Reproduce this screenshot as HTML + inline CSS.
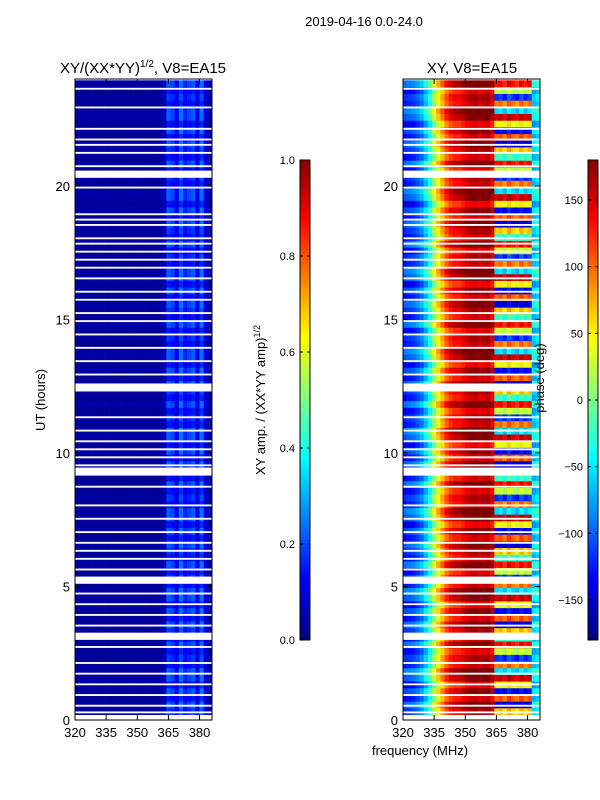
<!DOCTYPE html>
<html><head><meta charset="utf-8">
<style>
body{margin:0;background:#fff;}
svg{display:block;font-family:"Liberation Sans","DejaVu Sans",sans-serif;}
</style></head>
<body>
<svg id="fig" width="600" height="800" xmlns="http://www.w3.org/2000/svg">
<rect width="600" height="800" fill="#fff"/>
<text x="364" y="26" font-size="13" text-anchor="middle">2019-04-16 0.0-24.0</text>
<text x="143" y="73" font-size="15" text-anchor="middle">XY/(XX*YY)<tspan font-size="10" dy="-6">1/2</tspan><tspan dy="6">, V8=EA15</tspan></text>
<text x="472" y="73" font-size="15" text-anchor="middle">XY, V8=EA15</text>
<text transform="translate(45,400) rotate(-90)" font-size="13" text-anchor="middle">UT (hours)</text>
<text transform="translate(265,400) rotate(-90)" font-size="13" text-anchor="middle">XY amp. / (XX*YY amp)<tspan font-size="9" dy="-5">1/2</tspan></text>
<g id="left"></g>
<g id="right"></g>
<g id="cb1"></g>
<g id="cb2"></g>
<text transform="translate(544,378) rotate(-90)" font-size="13" text-anchor="middle">phase (deg)</text>
<text x="420" y="755" font-size="13" text-anchor="middle">frequency (MHz)</text>
</svg>
<script>
const freqBands=[320,322,324,326,328,330,332,334,336,338,340,342,344,346,348,350,352,354,356,358,360,362,364,366,368,370,372,374,376,378,380,382,384];
const phaseProfile=[-120,-115,-110,-100,-85,-60,-30,10,50,80,110,130,140,140,150,160,165,170,160,165,170,150,0,10,-10,20,0,-10,15,-5,10,-60,-50];
const ampProfile=[0.03,0.03,0.03,0.03,0.03,0.03,0.03,0.03,0.03,0.03,0.03,0.03,0.03,0.03,0.03,0.03,0.03,0.03,0.03,0.03,0.03,0.05,0.18,0.16,0.1,0.2,0.13,0.16,0.18,0.1,0.2,0.08,0.04];
const phaseRowShift=[0,20,-15,10,-25,15,30,-10,0,-20,25,-15];
const rowPhaseHigh=[60,-150,100,-140,40,150,-60,90,-120,20,130,-30];
const gapTimes=[23.6,22.9,22.1,21.7,21.5,21.2,20.7,20.5,20.3,19.9,18.9,18.7,18.5,18.0,17.8,17.5,17.2,16.9,16.5,16.0,15.7,15.2,14.9,14.4,13.9,13.4,12.9,12.5,12.3,11.3,10.8,10.4,10.1,9.8,9.5,9.15,8.7,8.0,7.5,7.0,6.6,6.3,6.0,5.6,5.3,5.1,4.7,4.3,3.9,3.5,3.2,3.0,2.7,2.1,1.7,1.3,0.9,0.5,0.25];
const gapWidths=[0.07,0.07,0.07,0.07,0.07,0.07,0.07,0.07,0.25,0.07,0.07,0.07,0.07,0.07,0.07,0.07,0.07,0.07,0.07,0.07,0.07,0.07,0.07,0.07,0.07,0.07,0.07,0.07,0.3,0.07,0.07,0.07,0.07,0.07,0.07,0.3,0.07,0.07,0.07,0.07,0.07,0.07,0.07,0.07,0.07,0.25,0.07,0.07,0.07,0.07,0.07,0.25,0.07,0.07,0.07,0.07,0.07,0.07,0.07];
const xTicks=[320,335,350,365,380];
const yTicks=[0,5,10,15,20];
const ampTicks=[0.0,0.2,0.4,0.6,0.8,1.0];
const phaseTicks=[-150,-100,-50,0,50,100,150];
const NS="http://www.w3.org/2000/svg";
function el(t,a,p){const e=document.createElementNS(NS,t);for(const k in a)e.setAttribute(k,a[k]);p.appendChild(e);return e;}
function cl(v){return Math.max(0,Math.min(1,v));}
function jet(v){v=cl(v);const r=cl(1.5-Math.abs(4*v-3)),g=cl(1.5-Math.abs(4*v-2)),b=cl(1.5-Math.abs(4*v-1));return `rgb(${Math.round(r*255)},${Math.round(g*255)},${Math.round(b*255)})`;}
const yT=79,yB=720;
function yS(h){return yB-(h/24)*(yB-yT);}
function panel(gid,x0,x1,valFn){
  const g=document.getElementById(gid);
  const xS=f=>x0+(f-320)/(386-320)*(x1-x0);
  const dt=0.25;
  for(let r=0;r<96;r++){
    const t=r*dt+0.2;
    if(t>23.9)break;
    for(let b=0;b<freqBands.length;b++){
      const f=freqBands[b];
      const xa=xS(f),xb=Math.min(x1,xS(f+2));
      const c=el('rect',{x:xa,y:yS(t+dt),width:xb-xa+0.3,height:yS(t)-yS(t+dt)+0.3,fill:valFn(b,r)},g);
      
      
    }
  }
  gapTimes.forEach((t,i)=>{
    const w=gapWidths[i];
    const gp=el('rect',{x:x0,y:yS(t+w),width:x1-x0,height:yS(t)-yS(t+w),fill:'#fff'},g);
    
    
  });
  el('rect',{x:x0,y:yT,width:x1-x0,height:yB-yT,fill:'none',stroke:'#000','stroke-width':1},g);
  xTicks.forEach(v=>{
    const x=xS(v);
    el('line',{x1:x,x2:x,y1:yB,y2:yB-5,stroke:'#000'},g);
    el('line',{x1:x,x2:x,y1:yT,y2:yT+5,stroke:'#000'},g);
    const tx=el('text',{x:x,y:yB+17,'font-size':13,'text-anchor':'middle'},g);tx.textContent=v;
    
    
  });
  yTicks.forEach(v=>{
    const y=yS(v);
    el('line',{x1:x0,x2:x0+5,y1:y,y2:y,stroke:'#000'},g);
    el('line',{x1:x1,x2:x1-5,y1:y,y2:y,stroke:'#000'},g);
    const tx=el('text',{x:x0-5,y:y+5,'font-size':13,'text-anchor':'end'},g);tx.textContent=v;
    
    
  });
}
panel('left',75,212,(b,r)=>jet(ampProfile[b]*(1+0.2*Math.sign(phaseRowShift[r%12]))));
panel('right',403,540,(b,r)=>{
  let p;
  if(b>21&&b<31){p=rowPhaseHigh[r%12]+phaseProfile[b];if(p>180)p-=360;if(p<-180)p+=360;}
  else{p=Math.max(-180,Math.min(180,phaseProfile[b]+phaseRowShift[r%12]));}
  return jet((p+180)/360);
});
function cbar(gid,x,ticks,lo,hi,fmt){
  const g=document.getElementById(gid);
  const top=160,bot=640;
  for(let i=0;i<120;i++){
    const v=i/120;
    el('rect',{x:x,y:bot-(i+1)*(bot-top)/120,width:10,height:(bot-top)/120+0.5,fill:jet(v)},g);
  }
  el('rect',{x:x,y:top,width:10,height:bot-top,fill:'none',stroke:'#000'},g);
  ticks.forEach(v=>{
    const y=bot-(v-lo)/(hi-lo)*(bot-top);
    el('line',{x1:x,x2:x+3,y1:y,y2:y,stroke:'#000'},g);
    el('line',{x1:x+10,x2:x+7,y1:y,y2:y,stroke:'#000'},g);
    const tx=el('text',{x:x-5,y:y+4,'font-size':11,'text-anchor':'end'},g);tx.textContent=fmt(v);
    
    
  });
}
cbar('cb1',300,ampTicks,0,1,v=>v.toFixed(1));
cbar('cb2',588,phaseTicks,-180,180,v=>v<0?'\u2212'+(-v):String(v));
</script>
</body></html>
